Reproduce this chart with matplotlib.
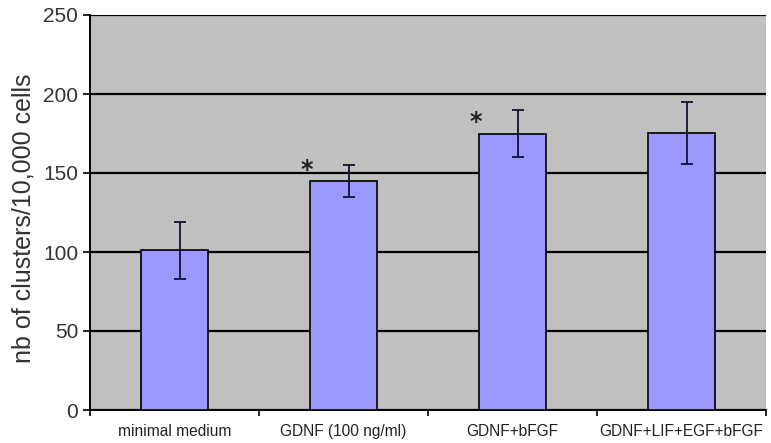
import matplotlib
matplotlib.use("Agg")
import matplotlib.pyplot as plt
import numpy as np

categories = ["minimal medium", "GDNF (100 ng/ml)", "GDNF+bFGF", "GDNF+LIF+EGF+bFGF"]
values = [101, 145, 175, 175.5]
errors = [18, 10, 15, 19.5]
significant = [False, True, True, False]
yticks = [0, 50, 100, 150, 200, 250]

plt.rcParams['font.family'] = ['Liberation Sans', 'DejaVu Sans']
fig = plt.figure(figsize=(7.71, 4.43), dpi=100)
ax = fig.add_axes([90/771, 33/443, 676/771, 395/443])
ax.set_facecolor('#c0c0c0')

x = np.arange(len(categories))
ax.set_xlim(-0.5, len(categories) - 0.5)
ax.set_ylim(0, 250)
ax.set_yticks(yticks)
ax.yaxis.grid(True, color='black', linewidth=1.6)
ax.set_axisbelow(True)

ax.bar(x, values, width=0.4, color='#9999ff', edgecolor='black', linewidth=1.2, zorder=3)
ax.errorbar(x + 0.03, values, yerr=errors, fmt='none', ecolor='#111133', elinewidth=1.3,
            capsize=4, capthick=1.3, zorder=4)
for xi, v, e, s in zip(x, values, errors, significant):
    if s:
        ax.text(xi - 0.22, v + 7, "*", ha='center', va='center', fontsize=17,
                fontweight='bold', family='DejaVu Sans', color='#222222', zorder=5)

ax.set_xticks(np.arange(-0.5, len(categories), 1.0))
ax.set_xticklabels([])
ax.set_xticks(x, minor=True)
ax.set_xticklabels(categories, minor=True, fontsize=11.2, color='#222222')
ax.tick_params(axis='x', which='minor', length=0, pad=10)
ax.tick_params(axis='x', which='major', length=4, direction='out', width=1.2)
ax.tick_params(axis='y', length=5, width=1.2, labelsize=15, direction='out', colors='black')
ax.tick_params(axis='y', labelcolor='#333333')
for sp in ['top', 'right']:
    ax.spines[sp].set_visible(False)
for sp in ['left', 'bottom']:
    ax.spines[sp].set_linewidth(1.4)
ax.set_ylabel("nb of clusters/10,000 cells", fontsize=18, color='#333333', labelpad=4)
ax.yaxis.set_label_coords(-0.08, 0.485)

fig.savefig("out.png", dpi=100)
